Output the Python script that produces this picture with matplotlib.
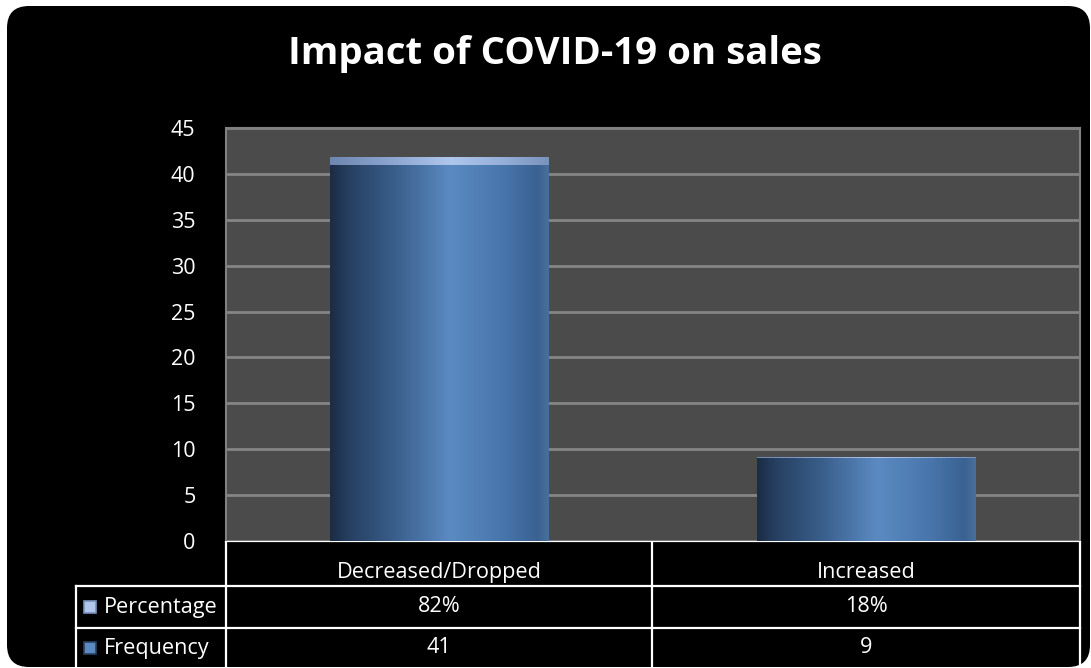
import numpy as np
import matplotlib.pyplot as plt
from matplotlib.patches import FancyBboxPatch, Rectangle
from matplotlib.colors import LinearSegmentedColormap

plt.rcParams['font.family'] = ['Open Sans', 'DejaVu Sans']

categories = ["Decreased/Dropped", "Increased"]
frequency = [41, 9]
percentage = [0.82, 0.18]
pct_labels = ["82%", "18%"]
series_names = ["Percentage", "Frequency"]
y_ticks = [0, 5, 10, 15, 20, 25, 30, 35, 40, 45]

W, H = 1091, 668
fig = plt.figure(figsize=(W / 100, H / 100), dpi=100, facecolor="white")


def px_axes(left, top, right, bottom, **kw):
    return fig.add_axes([left / W, 1 - bottom / H, (right - left) / W, (bottom - top) / H], **kw)


# black rounded chart area
bg = FancyBboxPatch((0.07, 0.01), 10.83, 6.61, boxstyle="round,pad=0,rounding_size=0.22",
                    transform=fig.dpi_scale_trans, facecolor="black", edgecolor="none", zorder=-10)
fig.patches.append(bg)

fig.text(555 / W, 1 - 54 / H, "Impact of COVID-19 on sales", color="white",
         fontsize=27.6, fontweight="bold", ha="center", va="center")

# cylinder shading, dark on the left, highlight a bit right of centre
body_cmap = LinearSegmentedColormap.from_list("body", [
    (0.0, "#1b2c45"), (0.08, "#263f60"), (0.3, "#3a5f8c"),
    (0.55, "#5b8ac2"), (0.78, "#4977ad"), (0.95, "#3a6292"), (1.0, "#4a6f9c")])
cap_cmap = LinearSegmentedColormap.from_list("cap", [
    (0.0, "#6f87b0"), (0.3, "#8ea8d2"), (0.55, "#b0c7ec"), (0.8, "#94aed8"), (1.0, "#7a93bd")])
grad = np.linspace(0, 1, 256).reshape(1, -1)

ax = px_axes(226, 128, 1080, 541)
ax.set_facecolor("#4b4b4b")
ax.set_xlim(-0.5, 1.5)
ax.set_ylim(0, 45)
ax.set_yticks(y_ticks)
ax.yaxis.grid(True, color="#858585", linewidth=2)
ax.set_axisbelow(True)
ax.set_xticks([])
ax.tick_params(axis="y", colors="white", labelsize=15.5, length=0, pad=22)
for s in ax.spines.values():
    s.set_color("#808080")
    s.set_linewidth(1.5)
ax.spines["bottom"].set_visible(False)

x = np.arange(len(categories))
bars_f = ax.bar(x, frequency, width=0.512, color="none", edgecolor="none")
bars_p = ax.bar(x, percentage, width=0.512, bottom=frequency, color="none", edgecolor="none")

for bars, cmap in ((bars_f, body_cmap), (bars_p, cap_cmap)):
    for b in bars:
        x0, y0 = b.get_x(), b.get_y()
        w, h = b.get_width(), b.get_height()
        im = ax.imshow(grad, cmap=cmap, aspect="auto", extent=(x0, x0 + w, y0, y0 + h),
                       interpolation="bicubic", zorder=3)
        im.set_clip_path(b)
ax.set_xlim(-0.5, 1.5)
ax.set_ylim(0, 45)

# data table below the plot
tab = px_axes(0, 541, W, H)
tab.set_xlim(0, W)
tab.set_ylim(H, 541)
tab.axis("off")
lc = dict(color="white", linewidth=1.6)
col_edges = [226, 652, 1080]
row_edges = [541, 586, 628, 668]
tab.plot([226, 1080], [541, 541], **lc)
tab.plot([76, 1080], [586, 586], **lc)
tab.plot([76, 1080], [628, 628], **lc)
tab.plot([76, 76], [586, 668], **lc)
for cx in col_edges:
    tab.plot([cx, cx], [541, 668], **lc)

fs = 15.6
for i, cat in enumerate(categories):
    cx = (col_edges[i] + col_edges[i + 1]) / 2
    tab.text(cx, 572, cat, color="white", fontsize=fs, ha="center", va="center")
    tab.text(cx, 606, pct_labels[i], color="white", fontsize=fs, ha="center", va="center")
    tab.text(cx, 647, str(frequency[i]), color="white", fontsize=fs, ha="center", va="center")

key_cmaps = [cap_cmap, body_cmap]
for j, name in enumerate(series_names):
    yc = (row_edges[j + 1] + row_edges[j + 2]) / 2
    tab.add_patch(Rectangle((84, yc - 6), 12, 12, facecolor=key_cmaps[j](0.55),
                            edgecolor=key_cmaps[j](0.1), linewidth=1.2))
    tab.text(104, yc, name, color="white", fontsize=fs, ha="left", va="center")

fig.savefig("out.png", dpi=100, facecolor="white")
